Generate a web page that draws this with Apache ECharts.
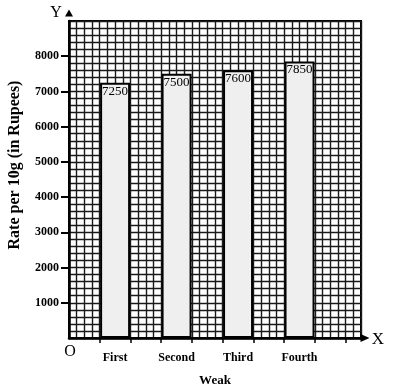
<!DOCTYPE html>
<html>
<head>
<meta charset="utf-8">
<script src="https://cdn.jsdelivr.net/npm/echarts@6/dist/echarts.min.js"></script>
<style>
  html, body { margin: 0; padding: 0; background: #fff; }
  #chart { width: 398px; height: 392px; }
</style>
</head>
<body>
<div id="chart"></div>
<script>
// weeks and gold rate per 10g
var weeks = ['First', 'Second', 'Third', 'Fourth'];
var weekPos = [1.5, 3.5, 5.5, 7.5];
var rates = [7250, 7500, 7600, 7850];
var yTicks = [1000, 2000, 3000, 4000, 5000, 6000, 7000, 8000];
var xTicks = [1, 2, 3, 4, 5, 6, 7, 8, 9];

var serif = '"Liberation Serif", "DejaVu Serif", serif';

var chartDom = document.getElementById('chart');
var myChart = echarts.init(chartDom);

var barData = weekPos.map(function (x, i) { return [x, rates[i]]; });

var option = {
  animation: false,
  grid: {
    left: 69, top: 21, right: 37, bottom: 54,
    show: true,
    borderColor: '#000',
    borderWidth: 2
  },
  xAxis: [
    {
      // graph paper columns
      type: 'value', min: 0, max: 9.5, interval: 0.25,
      position: 'bottom',
      axisLine: { show: false },
      axisTick: { show: false },
      axisLabel: { show: false },
      splitLine: { show: true, lineStyle: { color: '#1a1a1a', width: 1.4 } }
    },
    {
      type: 'value', min: 0, max: 9.5,
      position: 'bottom',
      name: 'Weak',
      nameLocation: 'middle',
      nameGap: 36,
      nameTextStyle: { fontFamily: serif, fontWeight: 'bold', fontSize: 13, color: '#000' },
      axisLine: {
        show: true,
        symbol: ['none', 'triangle'],
        symbolSize: [8, 9],
        symbolOffset: [0, 4],
        lineStyle: { color: '#000', width: 2.5 }
      },
      axisTick: { show: true, customValues: xTicks, length: 5, lineStyle: { color: '#000', width: 1.5 } },
      axisLabel: {
        customValues: weekPos,
        margin: 14,
        fontFamily: serif, fontWeight: 'bold', fontSize: 12, color: '#000',
        formatter: function (v) {
          var i = weekPos.indexOf(v);
          return i >= 0 ? weeks[i] : '';
        }
      },
      splitLine: { show: false }
    }
  ],
  yAxis: [
    {
      // graph paper rows
      type: 'value', min: 0, max: 9000, interval: 200,
      position: 'left',
      axisLine: { show: false },
      axisTick: { show: false },
      axisLabel: { show: false },
      splitLine: { show: true, lineStyle: { color: '#1a1a1a', width: 1.4 } }
    },
    {
      type: 'value', min: 0, max: 9000,
      position: 'left',
      axisLine: {
        show: true,
        symbol: ['none', 'triangle'],
        symbolSize: [8, 7],
        symbolOffset: [0, 8],
        lineStyle: { color: '#000', width: 2.5 }
      },
      axisTick: { show: true, customValues: yTicks, length: 8, lineStyle: { color: '#000', width: 2 } },
      axisLabel: {
        customValues: yTicks,
        margin: 10,
        fontFamily: serif, fontWeight: 'bold', fontSize: 12, color: '#000',
        formatter: function (v) { return String(v); }
      },
      splitLine: { show: false }
    }
  ],
  graphic: [
    {
      type: 'text', x: 15, y: 165, rotation: Math.PI / 2,
      style: {
        text: 'Rate per 10g (in Rupees)',
        fontFamily: serif, fontWeight: 'bold', fontSize: 16, fill: '#000',
        textAlign: 'center', textVerticalAlign: 'middle'
      }
    },
    {
      type: 'text', x: 56, y: 13,
      style: { text: 'Y', fontFamily: serif, fontSize: 16, fill: '#000', textAlign: 'center', textVerticalAlign: 'middle' }
    },
    {
      type: 'text', x: 378, y: 340,
      style: { text: 'X', fontFamily: serif, fontSize: 17, fill: '#000', textAlign: 'center', textVerticalAlign: 'middle' }
    },
    {
      type: 'text', x: 70, y: 352,
      style: { text: 'O', fontFamily: serif, fontSize: 16, fill: '#000', textAlign: 'center', textVerticalAlign: 'middle' }
    }
  ],
  series: [
    {
      type: 'bar',
      xAxisIndex: 0,
      yAxisIndex: 0,
      barWidth: 30,
      data: barData,
      itemStyle: { color: '#efefef', borderColor: '#000', borderWidth: 2 },
      label: {
        show: true,
        position: 'insideTop',
        distance: 2,
        fontFamily: serif, fontSize: 13, color: '#000'
      }
    }
  ]
};

myChart.setOption(option);
</script>
</body>
</html>
